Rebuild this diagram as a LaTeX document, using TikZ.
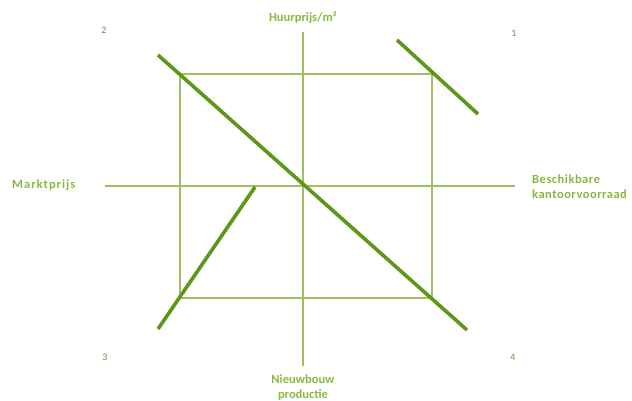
\documentclass[tikz,border=0pt]{standalone}
\usepackage{fontspec}
\setmainfont{Carlito}
\definecolor{thinline}{RGB}{160,190,100}
\definecolor{thickline}{RGB}{95,150,25}
\definecolor{labeltxt}{RGB}{135,185,65}
\begin{document}
\begin{tikzpicture}[x=1pt,y=-1pt,
  thin axis/.style={draw=thinline,line width=1.6pt},
  thick curve/.style={draw=thickline,line width=3.6pt},
  lbl/.style={text=labeltxt,font=\bfseries\fontsize{12.5}{15}\selectfont,inner sep=0pt},
  num/.style={text=labeltxt!80!black,font=\fontsize{10}{11}\selectfont,inner sep=0pt}]
\useasboundingbox (0,0) rectangle (632,401);
% axes
\coordinate (xl) at (105,186);
\coordinate (xr) at (515,186);
\coordinate (yt) at (303,32);
\coordinate (yb) at (303,366);
\draw[thin axis] (xl) -- (xr);
\draw[thin axis] (yt) -- (yb);
% rectangle
\coordinate (r1) at (180,74);
\coordinate (r2) at (432,298);
\draw[thin axis] (r1) rectangle (r2);
% thick lines
\coordinate (a1) at (158,55);
\coordinate (a2) at (467,330);
\draw[thick curve] (a1) -- (a2);
\coordinate (b1) at (397,40);
\coordinate (b2) at (478,114);
\draw[thick curve] (b1) -- (b2);
\coordinate (c1) at (255,187);
\coordinate (c2) at (158,329);
\draw[thick curve] (c1) -- (c2);
% labels
\node[lbl] (ty) at (303,18) {Huurprijs/m²};
\node[lbl,anchor=west] (tx) at (12,185) {\addfontfeatures{LetterSpace=8}Marktprijs};
\node[lbl,anchor=west,align=left] (tr) at (532,187) {\addfontfeatures{LetterSpace=4}Beschikbare\\\addfontfeatures{LetterSpace=4}kantoorvoorraad};
\node[lbl,align=center] (tb) at (303,388) {Nieuwbouw\\productie};
\node[num] (n2) at (104,30) {2};
\node[num] (n1) at (514,33) {1};
\node[num] (n3) at (105,357) {3};
\node[num] (n4) at (513,357) {4};
\end{tikzpicture}
\end{document}
